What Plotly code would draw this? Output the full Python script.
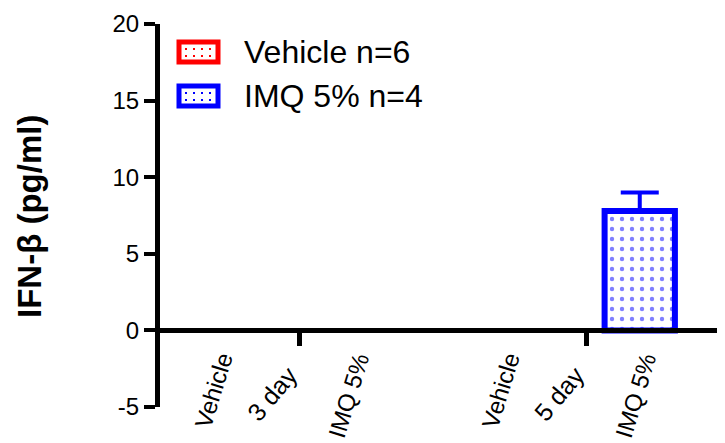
import plotly.graph_objects as go

# data
days = ["3 day", "5 day"]
groups = ["Vehicle", "IMQ 5%"]
legend_names = ["Vehicle n=6", "IMQ 5% n=4"]
vehicle_mean = [0, 0]
imq_mean = [0, 7.8]
imq_sem = [None, 1.2]
y_ticks = [-5, 0, 5, 10, 15, 20]
y_ticktext = ["-5", "0", "5", "10", "15", "20"]

RED = "#FF0000"
BLUE = "#0000FF"
FONT = "Liberation Sans, Arial, sans-serif"

# the page body has an 8px margin, so the figure is made smaller to fit the window
OFF = 8
W, H = 725 - OFF, 443 - OFF
L, R, T, B = 157 - OFF, 0, 24 - OFF, 36
pw, ph = W - L - R, H - T - B


def px(x):
    # screen x (reference pixels) -> paper
    return (x - OFF - L) / pw


def py(y):
    return 1 - (y - OFF - T) / ph


x_pos = list(range(1, len(days) + 1))

fig = go.Figure()
for name, vals, col, err in [("Vehicle", vehicle_mean, RED, None),
                             ("IMQ 5%", imq_mean, BLUE, imq_sem)]:
    fig.add_trace(go.Bar(
        x=x_pos, y=vals, name=name, showlegend=False,
        marker=dict(color="white",
                    line=dict(color=col, width=[6 if v else 0 for v in vals]),
                    pattern=dict(shape=".", fgcolor=col, bgcolor="white",
                                 size=10, solidity=0.15)),
        error_y=dict(type="data", array=err, symmetric=False,
                     arrayminus=[0] * len(vals), color=col,
                     thickness=4, width=19, visible=err is not None),
    ))

# category labels under the axis
annos = []
lab_font = dict(size=24, family=FONT, color="black")
for i, xp in enumerate(x_pos):
    annos.append(dict(x=xp - 0.205, y=-1.1, xref="x", yref="y", text=groups[0],
                      textangle=-73, xanchor="right", yanchor="top", showarrow=False,
                      font=lab_font))
    annos.append(dict(x=xp + 0.27, y=-1.1, xref="x", yref="y", text=groups[1],
                      textangle=-73, xanchor="right", yanchor="top", showarrow=False,
                      font=lab_font))
    annos.append(dict(x=xp + 0.021, y=-1.8, xref="x", yref="y", text=days[i],
                      textangle=-50, xanchor="right", yanchor="top", showarrow=False,
                      font=dict(size=25, family=FONT, color="black")))

# y title
annos.append(dict(x=px(29), y=py(217), xref="paper", yref="paper",
                  text="<b>IFN-β (pg/ml)</b>", textangle=-90, showarrow=False,
                  xanchor="center", yanchor="middle",
                  font=dict(size=33, family=FONT, color="black")))

# legend (drawn by hand so the swatches are the same size as the original)
shapes = []
for k, (nm, col) in enumerate(zip(legend_names, [RED, BLUE])):
    yc = 52 + 44 * k
    shapes.append(dict(type="rect", xref="paper", yref="paper",
                       x0=px(179), x1=px(218), y0=py(yc - 10), y1=py(yc + 10),
                       line=dict(color=col, width=5), fillcolor="white"))
    for dy in (-3, 4):
        shapes.append(dict(type="line", xref="paper", yref="paper",
                           x0=px(185), x1=px(214), y0=py(yc + dy), y1=py(yc + dy),
                           line=dict(color=col, width=2, dash="2px,6px")))
    annos.append(dict(x=px(242), y=py(yc), xref="paper", yref="paper", text=nm,
                      xanchor="left", yanchor="middle", showarrow=False,
                      font=dict(size=32, family=FONT, color="black")))

fig.update_layout(
    width=W, height=H,
    margin=dict(l=L, r=R, t=T, b=B),
    paper_bgcolor="white", plot_bgcolor="white",
    barmode="group", bargap=0.252, bargroupgap=0.345,
    showlegend=False,
    annotations=annos, shapes=shapes,
    xaxis=dict(range=[0.505, 2.484], tickvals=x_pos, showticklabels=False,
               ticks="outside", ticklen=13, tickwidth=5, tickcolor="black",
               showline=True, linewidth=5, linecolor="black",
               showgrid=False, zeroline=False, anchor="free", position=0.2),
    yaxis=dict(range=[-5, 20], tickvals=y_ticks, ticktext=y_ticktext,
               ticks="outside", ticklen=11,
               tickwidth=4, tickcolor="black", showline=True, linewidth=5,
               linecolor="black", showgrid=False, zeroline=False,
               anchor="free", position=0,
               tickfont=dict(size=24, family=FONT, color="black")),
)

fig.write_html("out.html")
